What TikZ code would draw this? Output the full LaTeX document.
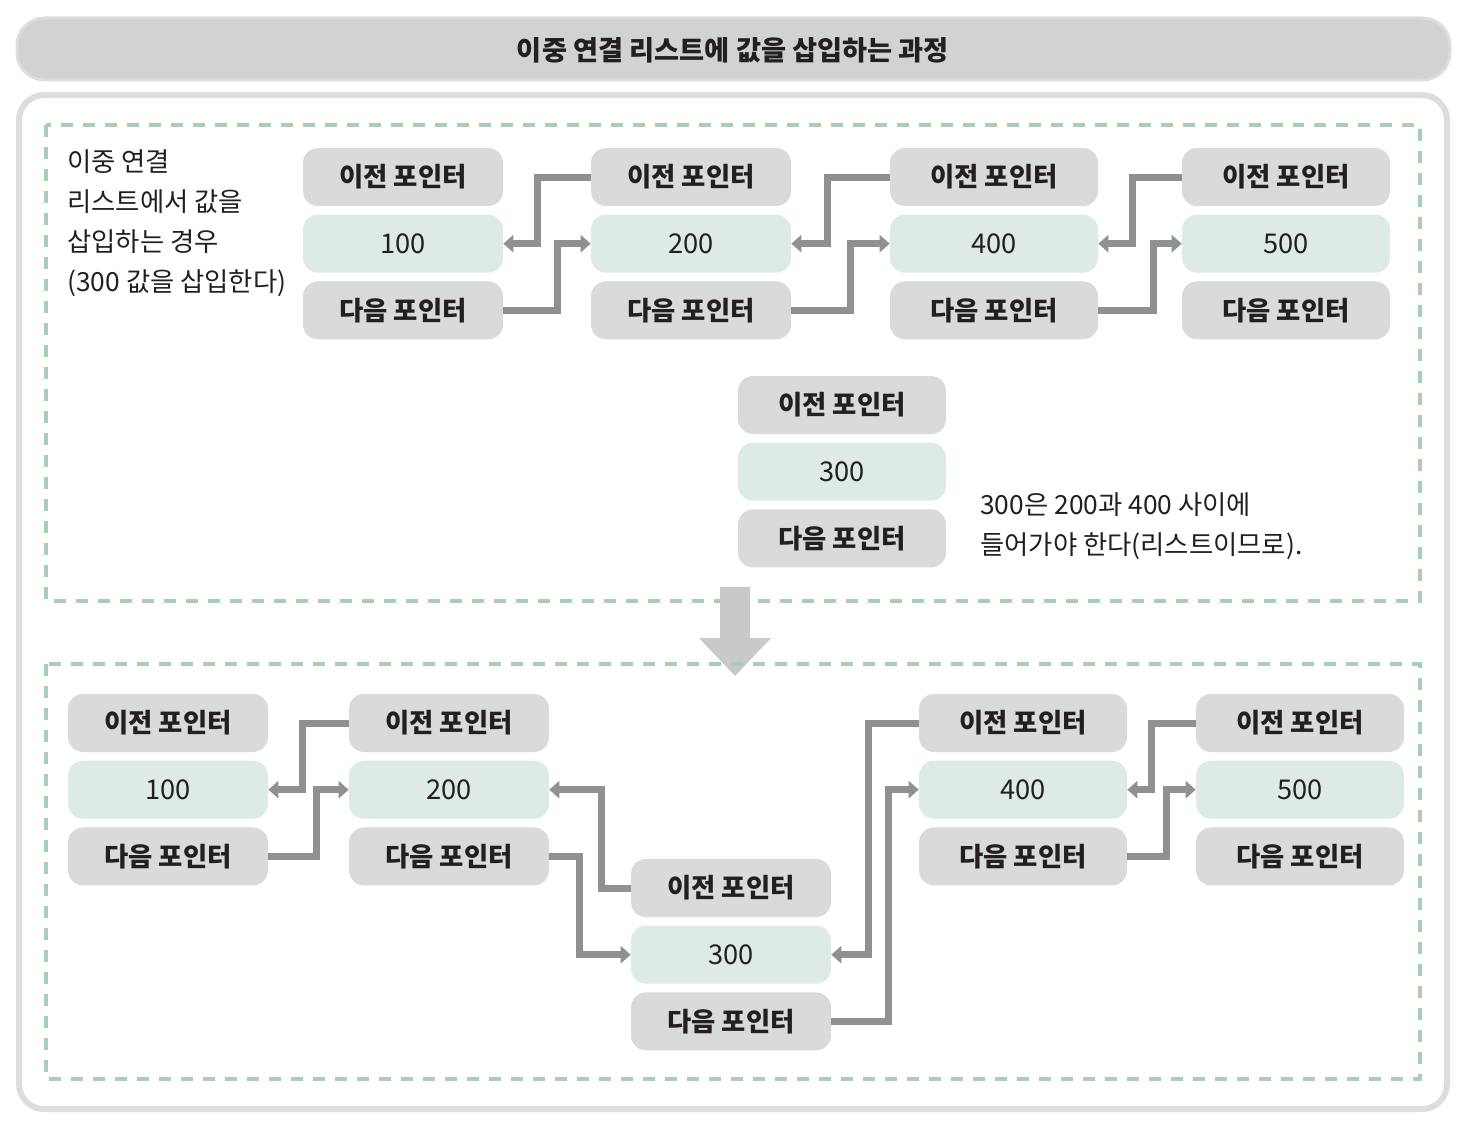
\documentclass[tikz,border=0pt]{standalone}
\usepackage{xcolor}
\usepackage{fontspec}
\setmainfont{Noto Sans CJK KR}
\usepackage{tikz}
\usetikzlibrary{positioning}
\usetikzlibrary{shapes,arrows.meta}
\definecolor{boxgray}{HTML}{D9DADB}
\definecolor{boxgreen}{HTML}{DEEBE4}
\definecolor{linkgray}{HTML}{8F9092}
\definecolor{dashgreen}{HTML}{A8CFB4}
\definecolor{framegray}{HTML}{DCDDDD}
\definecolor{titlegray}{HTML}{D1D2D4}
\definecolor{textblack}{HTML}{231F20}
\definecolor{bigarrow}{HTML}{C8C9CB}
\tikzstyle{ptrbox} = [rectangle, rounded corners=0.3cm, fill=boxgray, minimum width=4cm, minimum height=1.16cm, inner sep=0pt, font=\bfseries\fontsize{15}{17}\selectfont]
\tikzstyle{valbox} = [ptrbox, fill=boxgreen, font=\fontsize{15.5}{17}\selectfont]
\tikzstyle{wide} = [minimum width=4.16cm]
\tikzstyle{link} = [draw=linkgray, line width=0.14cm, -{Triangle[length=0.2cm, width=0.34cm]}]
\tikzstyle{dashbox} = [draw=dashgreen, line width=0.065cm, dash pattern=on 0.24cm off 0.2cm]
\tikzstyle{note} = [align=left, inner sep=0pt, font=\fontsize{15}{22.7}\selectfont]

\begin{document}
\begin{tikzpicture}[x=0.02cm, y=-0.02cm, node distance=0.16cm, every node/.style={text=textblack}]
\useasboundingbox (0,0) rectangle (1462,1132);

%% title and frame
\draw[fill=titlegray, draw=framegray, line width=0.06cm, rounded corners=0.55cm] (17,18) rectangle (1450,80);
\node[font=\bfseries\fontsize{15.5}{17}\selectfont] (title) at (733,50) {이중 연결 리스트에 값을 삽입하는 과정};
\draw[draw=framegray, fill=white, line width=0.12cm, rounded corners=0.5cm] (19,95) rectangle (1447,1109);

%% before
\draw[dashbox] (46,125) rectangle (1420,601);
\node[note, anchor=west] (case) at (67,223) {이중 연결\\리스트에서 값을\\삽입하는 경우\\(300 값을 삽입한다)};

\node[ptrbox] (tp100) at (403,177) {이전 포인터};
\node[valbox, below=of tp100] (tv100) {100};
\node[ptrbox, below=of tv100] (tn100) {다음 포인터};

\node[ptrbox] (tp200) at (691,177) {이전 포인터};
\node[valbox, below=of tp200] (tv200) {200};
\node[ptrbox, below=of tv200] (tn200) {다음 포인터};

\node[ptrbox, wide] (tp400) at (994,177) {이전 포인터};
\node[valbox, wide, below=of tp400] (tv400) {400};
\node[ptrbox, wide, below=of tv400] (tn400) {다음 포인터};

\node[ptrbox, wide] (tp500) at (1286,177) {이전 포인터};
\node[valbox, wide, below=of tp500] (tv500) {500};
\node[ptrbox, wide, below=of tv500] (tn500) {다음 포인터};

\draw[link] (tp200.west) -- ++(-53,0) |- (tv100.east);
\draw[link] (tn100.east) -- ++(54,0) |- (tv200.west);
\draw[link] (tp400.west) -- ++(-62,0) |- (tv200.east);
\draw[link] (tn200.east) -- ++(59,0) |- (tv400.west);
\draw[link] (tp500.west) -- ++(-49,0) |- (tv400.east);
\draw[link] (tn400.east) -- ++(55,0) |- (tv500.west);

\node[ptrbox, wide] (tp300) at (842,405) {이전 포인터};
\node[valbox, wide, below=of tp300] (tv300) {300};
\node[ptrbox, wide, below=of tv300] (tn300) {다음 포인터};
\node[note, anchor=west] (why) at (980,526) {300은 200과 400 사이에\\들어가야 한다(리스트이므로).};

%% arrow between
\fill[bigarrow] (720,587) -- (750,587) -- (750,638) -- (771,638) -- (735,676) -- (699,638) -- (720,638) -- cycle;

%% after
\draw[dashbox] (46,664) rectangle (1420,1079);

\node[ptrbox] (bp100) at (168,723) {이전 포인터};
\node[valbox, below=of bp100] (bv100) {100};
\node[ptrbox, below=of bv100] (bn100) {다음 포인터};

\node[ptrbox] (bp200) at (449,723) {이전 포인터};
\node[valbox, below=of bp200] (bv200) {200};
\node[ptrbox, below=of bv200] (bn200) {다음 포인터};

\node[ptrbox] (bp300) at (731,888) {이전 포인터};
\node[valbox, below=of bp300] (bv300) {300};
\node[ptrbox, below=of bv300] (bn300) {다음 포인터};

\node[ptrbox, wide] (bp400) at (1023,723) {이전 포인터};
\node[valbox, wide, below=of bp400] (bv400) {400};
\node[ptrbox, wide, below=of bv400] (bn400) {다음 포인터};

\node[ptrbox, wide] (bp500) at (1300,723) {이전 포인터};
\node[valbox, wide, below=of bp500] (bv500) {500};
\node[ptrbox, wide, below=of bv500] (bn500) {다음 포인터};

\draw[link] (bp200.west) -- ++(-46,0) |- (bv100.east);
\draw[link] (bn100.east) -- ++(48,0) |- (bv200.west);
\draw[link] (bp300.west) -- ++(-29,0) |- (bv200.east);
\draw[link] (bn200.east) -- ++(30,0) |- (bv300.west);
\draw[link] (bp400.west) -- ++(-50,0) |- (bv300.east);
\draw[link] (bn300.east) -- ++(57,0) |- (bv400.west);
\draw[link] (bp500.west) -- ++(-44,0) |- (bv400.east);
\draw[link] (bn400.east) -- ++(39,0) |- (bv500.west);
\end{tikzpicture}
\end{document}
